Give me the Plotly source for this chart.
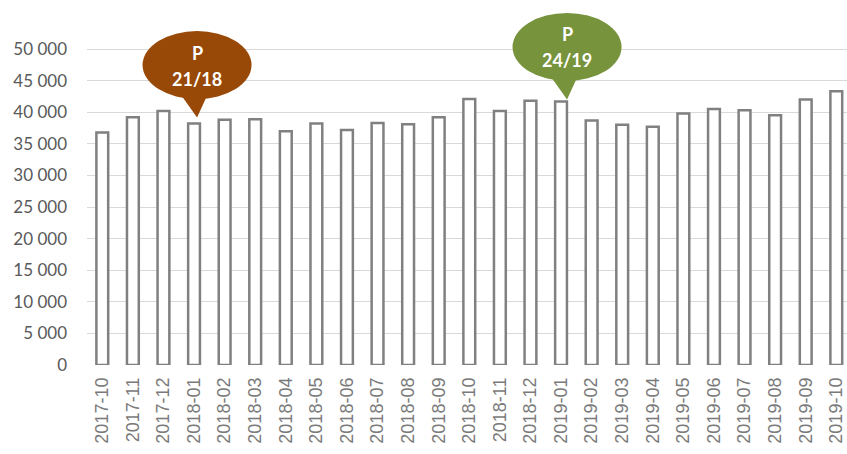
import plotly.graph_objects as go

months = ["2017-10", "2017-11", "2017-12", "2018-01", "2018-02", "2018-03", "2018-04",
          "2018-05", "2018-06", "2018-07", "2018-08", "2018-09", "2018-10", "2018-11",
          "2018-12", "2019-01", "2019-02", "2019-03", "2019-04", "2019-05", "2019-06",
          "2019-07", "2019-08", "2019-09", "2019-10"]
values = [36800, 39200, 40200, 38200, 38800, 38900, 37000, 38200, 37200, 38300, 38100,
          39200, 42100, 40200, 41800, 41700, 38700, 38000, 37700, 39800, 40500, 40300,
          39500, 42000, 43300]
y_ticks = [0, 5000, 10000, 15000, 20000, 25000, 30000, 35000, 40000, 45000, 50000]

callout_months = ["2018-01", "2019-01"]
callout_titles = ["P", "P"]
callout_labels = ["21/18", "24/19"]
callout_colors = ["#984807", "#77933C"]
callout_gaps = [6, 2]      # pixel gap between bar top and pointer tip
callout_dx = [3, 6]        # pixel horizontal offset of pointer tip from bar centre

fig = go.Figure()
fig.add_trace(go.Bar(
    x=months, y=values,
    marker=dict(color="white", line=dict(color="#808080", width=2.5)),
    hoverinfo="x+y",
))

shapes = []
annotations = []
for m, t, lab, col, gap, dx in zip(callout_months, callout_titles, callout_labels,
                                   callout_colors, callout_gaps, callout_dx):
    v = values[months.index(m)]
    shapes.append(dict(type="circle", xref="x", yref="y", xsizemode="pixel",
                       ysizemode="pixel", xanchor=m, yanchor=v,
                       x0=dx - 54.5, x1=dx + 54.5, y0=gap + 52.5 - 34, y1=gap + 52.5 + 34,
                       fillcolor=col, line=dict(width=0), layer="above"))
    shapes.append(dict(type="path", xref="x", yref="y", xsizemode="pixel",
                       ysizemode="pixel", xanchor=m, yanchor=v,
                       path=f"M {dx - 17},{gap + 24} L {dx},{gap} L {dx + 11},{gap + 24} Z",
                       fillcolor=col, line=dict(width=0), layer="above"))
    annotations.append(dict(x=m, y=v, xref="x", yref="y", text=f"<b>{t}</b>",
                            showarrow=False, xshift=dx, yshift=gap + 65, yanchor="middle",
                            font=dict(family="Lato", size=18, color="white")))
    annotations.append(dict(x=m, y=v, xref="x", yref="y", text=f"<b>{lab}</b>",
                            showarrow=False, xshift=dx, yshift=gap + 39, yanchor="middle",
                            font=dict(family="Lato", size=18, color="white")))

fig.update_layout(
    width=847, height=454,
    margin=dict(l=87, r=0, t=5, b=89, autoexpand=False),
    paper_bgcolor="white", plot_bgcolor="white",
    showlegend=False,
    bargap=0.614,
    separators=", ",
    shapes=shapes,
    annotations=annotations,
    xaxis=dict(type="category", range=[-0.5, 24.35], tickangle=-90, automargin=False,
               tickfont=dict(family="Liberation Sans", size=18, color="#7a7a7a"),
               showgrid=False, showline=False, zeroline=False, ticks="",
               ticklabelstandoff=8),
    yaxis=dict(range=[0, 56962], tickvals=y_ticks, tickformat=",d", automargin=False,
               tickfont=dict(family="Lato", size=17, color="#595959"),
               showgrid=True, gridcolor="#d9d9d9", gridwidth=1,
               showline=False, zeroline=False, ticks="", ticklabelstandoff=19),
)

fig.write_html("out.html", config={"displayModeBar": False},
               post_script="document.body.style.margin='0';document.body.style.overflow='hidden';")
